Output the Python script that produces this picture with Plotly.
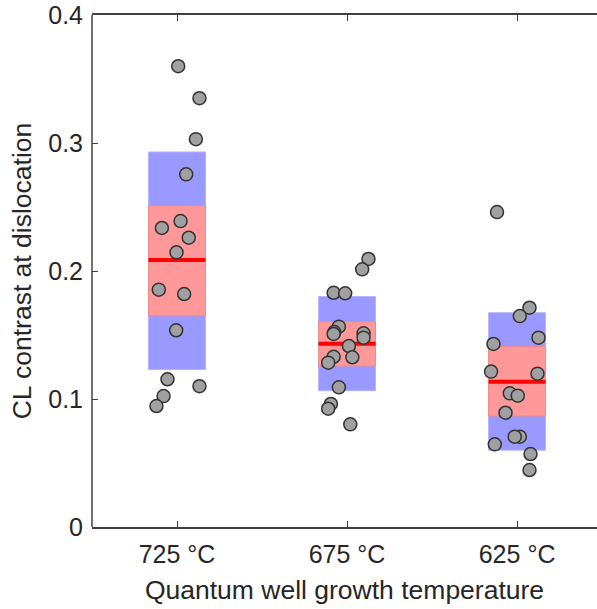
import plotly.graph_objects as go

categories = ["725 °C", "675 °C", "625 °C"]
positions = [1, 2, 3]

# box statistics (outer = blue band, inner = pink band, median = red line)
outer_low = [0.123, 0.1065, 0.060]
outer_high = [0.293, 0.180, 0.1674]
inner_low = [0.165, 0.1258, 0.0867]
inner_high = [0.251, 0.1604, 0.1409]
centre = [0.2085, 0.1432, 0.1135]

# individual points: values and horizontal jitter
g1_vals = [0.360, 0.335, 0.303, 0.2755, 0.2336, 0.239, 0.226, 0.2146,
           0.1854, 0.182, 0.1537, 0.1154, 0.110, 0.1023, 0.0945]
g1_jit = [0.007, 0.132, 0.111, 0.054, -0.089, 0.021, 0.069, -0.003,
          -0.107, 0.042, -0.005, -0.056, 0.132, -0.079, -0.121]
g2_vals = [0.2094, 0.2013, 0.183, 0.1826, 0.1565, 0.1523, 0.1508, 0.1513,
           0.1479, 0.1414, 0.133, 0.1284, 0.1326, 0.1091, 0.0961, 0.0924, 0.0802]
g2_jit = [0.126, 0.089, -0.079, -0.011, -0.048, -0.075, -0.079, 0.097,
          0.097, 0.011, -0.079, -0.111, 0.031, -0.048, -0.095, -0.111, 0.019]
g3_vals = [0.246, 0.1713, 0.1648, 0.1479, 0.143, 0.1214, 0.1198, 0.1044,
           0.1026, 0.0893, 0.0706, 0.0706, 0.0646, 0.057, 0.0445]
g3_jit = [-0.118, 0.073, 0.016, 0.126, -0.139, -0.153, 0.12, -0.043,
          0.004, -0.068, 0.016, -0.014, -0.131, 0.079, 0.073]

yticks = [0, 0.1, 0.2, 0.3, 0.4]
ytick_text = ["0", "0.1", "0.2", "0.3", "0.4"]

BOX_W = 0.335
TXT = "#262626"
FONT = "Liberation Sans, Arial, sans-serif"

fig = go.Figure()

fig.add_trace(go.Bar(
    x=positions, y=[h - l for h, l in zip(outer_high, outer_low)], base=outer_low,
    width=BOX_W, marker=dict(color="#9999ff", line=dict(color="#b4b4ff", width=1)),
    showlegend=False, hoverinfo="skip"))
fig.add_trace(go.Bar(
    x=positions, y=[h - l for h, l in zip(inner_high, inner_low)], base=inner_low,
    width=BOX_W, marker=dict(color="#ff9999", line=dict(color="#f08a8a", width=1)),
    showlegend=False, hoverinfo="skip"))

for p, c in zip(positions, centre):
    fig.add_trace(go.Scatter(
        x=[p - BOX_W / 2, p + BOX_W / 2], y=[c, c], mode="lines",
        line=dict(color="#ff0000", width=4), showlegend=False, hoverinfo="skip"))

for p, vals, jit in zip(positions, [g1_vals, g2_vals, g3_vals], [g1_jit, g2_jit, g3_jit]):
    fig.add_trace(go.Scatter(
        x=[p + j for j in jit], y=vals, mode="markers",
        marker=dict(size=13, color="#a0a0a0", line=dict(color="#333333", width=1.5)),
        showlegend=False))

fig.update_layout(
    width=597, height=609,
    margin=dict(l=92, r=0, t=15, b=82),
    plot_bgcolor="white", paper_bgcolor="white",
    barmode="overlay",
    font=dict(family=FONT, color=TXT, size=25),
    shapes=[dict(type="line", xref="paper", yref="paper", x0=0, x1=0, y0=0, y1=1,
                 line=dict(color="#404040", width=1.5))],
    xaxis=dict(
        range=[0.5, 3.47], tickvals=positions, ticktext=categories,
        showline=True, linecolor="#404040", linewidth=1.5, mirror="ticks",
        ticks="inside", ticklen=6, tickcolor="#404040", tickwidth=1,
        showgrid=False, zeroline=False, ticklabelstandoff=4,
        tickfont=dict(size=25, color=TXT, family=FONT),
        title=dict(text="Quantum well growth temperature",
                   font=dict(size=26.5, color=TXT, family=FONT), standoff=14),
    ),
    yaxis=dict(
        range=[0, 0.4], tickvals=yticks, ticktext=ytick_text,
        showline=False, mirror=False,
        ticks="inside", ticklen=6, tickcolor="#404040", tickwidth=1,
        showgrid=False, zeroline=False, ticklabelstandoff=8,
        tickfont=dict(size=25, color=TXT, family=FONT),
        title=dict(text="CL contrast at dislocation",
                   font=dict(size=26.5, color=TXT, family=FONT), standoff=8),
    ),
)

fig.write_html("out.html")
